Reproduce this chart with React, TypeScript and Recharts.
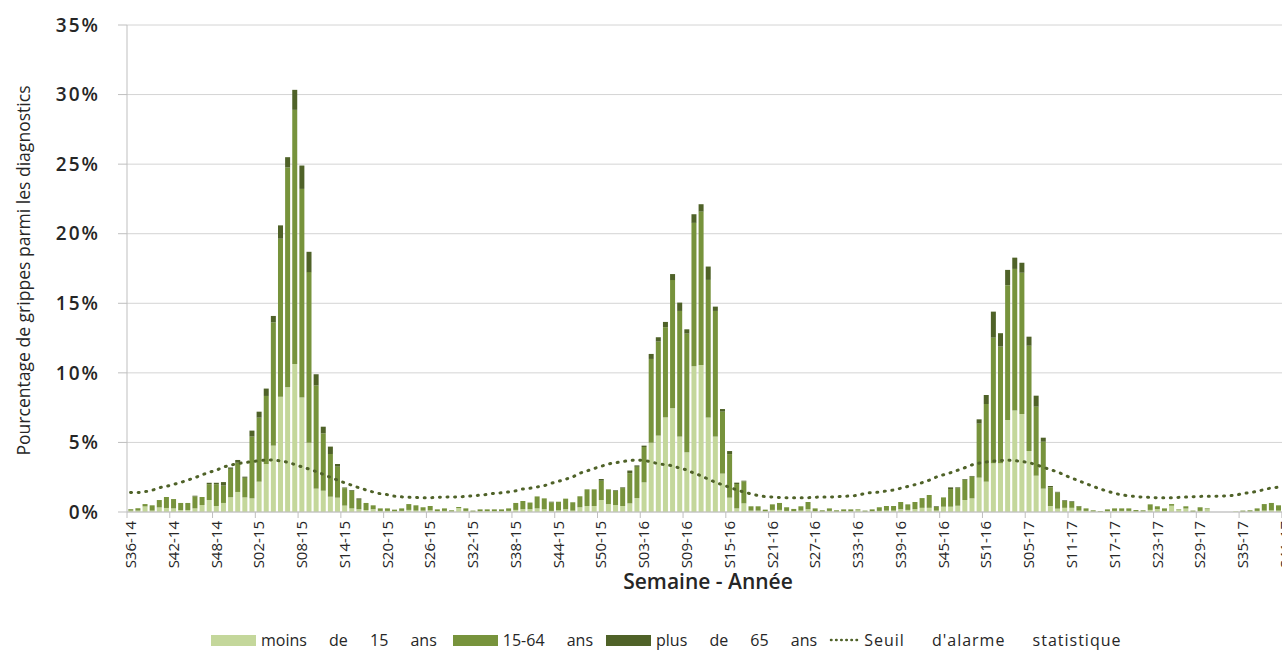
import { ComposedChart, Bar, Line, XAxis, YAxis, CartesianGrid, Legend, Label } from 'recharts';

// weekly flu share among diagnoses, season S36-14 .. S41-17
const SEASON_YEARS = [
  { year: '14', first: 36, last: 52 },
  { year: '15', first: 1, last: 53 },
  { year: '16', first: 1, last: 52 },
  { year: '17', first: 1, last: 41 },
];

const weeks: string[] = SEASON_YEARS.flatMap(({ year, first, last }) =>
  Array.from({ length: last - first + 1 }, (_, k) => `S${String(first + k).padStart(2, '0')}-${year}`),
);

const under15 = [
  0.1, 0.1, 0.4, 0.1, 0.33, 0.29, 0.26, 0.14, 0.14, 0.26,
  0.5, 0.86, 0.43, 0.65, 1.06, 1.44, 1.05, 0.98, 2.18, 3.45,
  4.77, 8.29, 8.96, 10.64, 8.22, 4.98, 1.68, 1.53, 1.1, 1.03,
  0.46, 0.26, 0.2, 0.14, 0.2, 0.08, 0.08, 0.05, 0.08, 0.15,
  0.1, 0.1, 0.12, 0.06, 0.08, 0.04, 0.28, 0.08, 0.03, 0.06,
  0.06, 0.06, 0.06, 0.08, 0.15, 0.2, 0.2, 0.26, 0.2, 0.08,
  0.12, 0.2, 0.1, 0.34, 0.43, 0.43, 0.86, 0.57, 0.5, 0.43,
  0.62, 1.0, 2.13, 4.98, 5.49, 6.8, 7.45, 5.42, 4.29, 10.47,
  10.57, 6.8, 5.42, 2.76, 1.03, 0.26, 0.62, 0.1, 0.1, 0.05,
  0.15, 0.15, 0.08, 0.06, 0.1, 0.2, 0.06, 0.03, 0.08, 0.03,
  0.05, 0.05, 0.12, 0.03, 0.05, 0.08, 0.1, 0.1, 0.2, 0.15,
  0.2, 0.3, 0.3, 0.1, 0.38, 0.38, 0.45, 0.86, 0.98, 2.47,
  2.18, 3.5, 3.5, 6.61, 7.29, 7.05, 4.38, 2.61, 1.68, 0.43,
  0.24, 0.3, 0.3, 0.1, 0.08, 0.04, 0.03, 0.05, 0.08, 0.08,
  0.08, 0.04, 0.04, 0.15, 0.2, 0.08, 0.45, 0.15, 0.25, 0.03,
  0.08, 0.2, 0, 0, 0, 0.05, 0.03, 0.04, 0.08, 0.1,
  0.12, 0.1, 0.12,
];

const age15to64 = [
  0.1, 0.17, 0.17, 0.38, 0.53, 0.79, 0.67, 0.51, 0.51, 0.86,
  0.58, 1.14, 1.57, 1.25, 2.04, 2.1, 1.41, 4.44, 4.6, 4.89,
  8.86, 11.35, 15.8, 18.26, 15.0, 12.26, 7.41, 4.12, 3.07, 2.23,
  1.25, 1.27, 0.68, 0.51, 0.28, 0.18, 0.18, 0.12, 0.18, 0.42,
  0.38, 0.24, 0.31, 0.13, 0.18, 0.08, 0.08, 0.18, 0.07, 0.13,
  0.13, 0.13, 0.13, 0.18, 0.5, 0.59, 0.48, 0.86, 0.78, 0.61,
  0.62, 0.76, 0.6, 0.79, 1.2, 1.2, 1.39, 1.06, 1.01, 1.29,
  2.17, 2.25, 2.54, 6.02, 6.76, 6.48, 9.22, 9.03, 8.53, 10.31,
  11.02, 9.88, 9.03, 4.45, 3.13, 1.75, 1.58, 0.31, 0.31, 0.12,
  0.4, 0.5, 0.26, 0.16, 0.31, 0.52, 0.2, 0.09, 0.18, 0.09,
  0.14, 0.14, 0.07, 0.07, 0.14, 0.26, 0.33, 0.33, 0.52, 0.4,
  0.52, 0.7, 0.92, 0.26, 0.67, 1.27, 1.27, 1.46, 1.56, 3.88,
  5.58, 9.03, 8.39, 9.69, 10.18, 10.15, 7.57, 4.96, 3.37, 1.34,
  1.16, 0.49, 0.42, 0.3, 0.18, 0.08, 0.04, 0.14, 0.18, 0.18,
  0.18, 0.1, 0.08, 0.4, 0.21, 0.18, 0.12, 0.04, 0.16, 0.07,
  0.26, 0.06, 0, 0, 0, 0, 0.07, 0.08, 0.18, 0.47,
  0.53, 0.38, 0.53,
];

const over65 = [
  0, 0, 0, 0, 0, 0, 0, 0, 0, 0.05,
  0, 0.1, 0.1, 0.25, 0.1, 0.2, 0.08, 0.43, 0.43, 0.53,
  0.46, 0.96, 0.74, 1.44, 1.68, 1.46, 0.81, 0.48, 0.53, 0.19,
  0.05, 0.05, 0.1, 0, 0, 0, 0, 0, 0, 0,
  0, 0, 0, 0, 0, 0, 0, 0, 0, 0,
  0, 0, 0, 0, 0, 0, 0, 0, 0, 0.05,
  0, 0, 0, 0, 0, 0, 0.12, 0, 0.05, 0.05,
  0.19, 0.1, 0.1, 0.36, 0.31, 0.38, 0.43, 0.6, 0.31, 0.62,
  0.53, 0.96, 0.31, 0.19, 0.22, 0.1, 0.05, 0, 0, 0,
  0, 0, 0, 0, 0, 0, 0, 0, 0, 0,
  0, 0, 0, 0, 0, 0, 0, 0, 0, 0,
  0, 0, 0, 0.05, 0, 0.12, 0.05, 0.05, 0.05, 0.31,
  0.65, 1.87, 0.96, 1.1, 0.81, 0.72, 0.65, 0.79, 0.29, 0.1,
  0.05, 0.05, 0.05, 0.03, 0, 0, 0, 0, 0, 0,
  0, 0, 0, 0, 0, 0, 0, 0, 0, 0,
  0, 0, 0, 0, 0, 0, 0, 0, 0, 0,
  0, 0, 0,
];

const alarmThreshold = [
  1.41, 1.4, 1.46, 1.56, 1.74, 1.84, 1.98, 2.12, 2.29, 2.46,
  2.66, 2.85, 3.0, 3.22, 3.36, 3.48, 3.55, 3.62, 3.68, 3.73,
  3.74, 3.67, 3.58, 3.42, 3.25, 3.09, 2.91, 2.71, 2.5, 2.3,
  2.1, 1.93, 1.75, 1.59, 1.44, 1.32, 1.25, 1.14, 1.09, 1.06,
  1.04, 1.03, 1.03, 1.05, 1.07, 1.08, 1.09, 1.12, 1.16, 1.21,
  1.26, 1.34, 1.38, 1.44, 1.52, 1.65, 1.71, 1.8, 1.89, 2.06,
  2.2, 2.35, 2.52, 2.78, 2.95, 3.12, 3.28, 3.44, 3.54, 3.62,
  3.7, 3.73, 3.7, 3.6, 3.47, 3.4, 3.32, 3.16, 3.02, 2.8,
  2.61, 2.37, 2.15, 1.96, 1.78, 1.6, 1.44, 1.31, 1.19, 1.11,
  1.08, 1.04, 1.03, 1.03, 1.03, 1.03, 1.06, 1.08, 1.08, 1.1,
  1.12, 1.16, 1.2, 1.33, 1.4, 1.42, 1.51, 1.58, 1.7, 1.83,
  1.96, 2.1, 2.28, 2.51, 2.67, 2.82, 3.0, 3.18, 3.38, 3.51,
  3.59, 3.66, 3.7, 3.72, 3.69, 3.63, 3.55, 3.4, 3.22, 3.05,
  2.88, 2.66, 2.44, 2.25, 2.04, 1.85, 1.66, 1.5, 1.35, 1.24,
  1.16, 1.11, 1.07, 1.05, 1.03, 1.03, 1.03, 1.05, 1.07, 1.1,
  1.12, 1.13, 1.13, 1.15, 1.17, 1.21, 1.32, 1.4, 1.48, 1.61,
  1.72, 1.78, 1.82,
];

const yTicks = [0, 5, 10, 15, 20, 25, 30, 35];

const data = weeks.map((week, i) => ({
  week,
  under15: under15[i],
  age15to64: age15to64[i],
  over65: over65[i],
  threshold: alarmThreshold[i],
}));

const LIGHT = '#c4d79b';
const MID = '#77933c';
const DARK = '#4f6228';
const AXIS = '#bfbfbf';
const TEXT = '#262626';
const FONT = '"Open Sans", sans-serif';

const CHART_W = 1295;
const CHART_H = 651;
const MARGIN = { top: 25, right: 6, left: 0, bottom: 0 };
const Y_AXIS_W = 127;
const BAND = (CHART_W - MARGIN.left - MARGIN.right - Y_AXIS_W) / weeks.length;

function WeekTick({ x, y, payload }: any) {
  const edge = x - BAND / 2;
  return (
    <g>
      <line x1={edge} x2={edge} y1={y} y2={y + 6} stroke={AXIS} />
      <text
        transform={`translate(${x},${y + 9}) rotate(-90)`}
        textAnchor="end"
        dy="0.36em"
        fontSize={15}
        fontFamily={FONT}
        fill={TEXT}
      >
        {payload.value}
      </text>
    </g>
  );
}

function YTitle({ viewBox }: any) {
  const cy = viewBox.y + viewBox.height / 2;
  return (
    <text
      transform={`translate(30,${cy + 2}) rotate(-90)`}
      textAnchor="middle"
      fontSize={19}
      fontFamily={FONT}
      fill={TEXT}
      textLength={370}
      lengthAdjust="spacingAndGlyphs"
    >
      Pourcentage de grippes parmi les diagnostics
    </text>
  );
}

function Swatch({ color }: { color: string }) {
  return <span style={{ display: 'inline-block', width: 45, height: 11, background: color, marginRight: 5 }} />;
}

function LegendRow() {
  const text = { fontSize: 16, wordSpacing: 18, color: TEXT, whiteSpace: 'pre' as const };
  return (
    <div style={{ display: 'flex', alignItems: 'center', paddingLeft: 211, fontFamily: FONT }}>
      <Swatch color={LIGHT} />
      <span style={text}>moins de 15 ans</span>
      <span style={{ width: 16 }} />
      <Swatch color={MID} />
      <span style={text}>15-64 ans</span>
      <span style={{ width: 13 }} />
      <Swatch color={DARK} />
      <span style={text}>plus de 65 ans</span>
      <span style={{ width: 12 }} />
      <svg width={30} height={12} style={{ marginRight: 5 }}>
        <line x1={2} x2={28} y1={6} y2={6} stroke={DARK} strokeWidth={2.5} strokeDasharray="0.5 4.6" strokeLinecap="round" />
      </svg>
      <span style={{ ...text, wordSpacing: 22, letterSpacing: 1 }}>Seuil d'alarme statistique</span>
    </div>
  );
}

export default function App() {
  return (
    <div style={{ position: 'absolute', left: 0, top: 0, width: 1282, height: 651, overflow: 'hidden', background: '#fff' }}>
      <ComposedChart width={CHART_W} height={CHART_H} data={data} margin={MARGIN} barCategoryGap="18%">
        <CartesianGrid horizontal vertical={false} stroke="#d4d4d4" />
        <XAxis
          dataKey="week"
          interval={5}
          height={CHART_H - 512 - MARGIN.bottom}
          tickSize={0}
          tickMargin={0}
          tickLine={false}
          axisLine={{ stroke: AXIS }}
          tick={<WeekTick />}
          label={{
            value: 'Semaine - Année',
            position: 'insideTop',
            offset: 62,
            style: { fontSize: 21, fontWeight: 600, fontFamily: FONT, fill: TEXT },
          }}
        />
        <YAxis
          width={Y_AXIS_W}
          domain={[0, 35]}
          ticks={yTicks}
          tickFormatter={(v: number) => `${v}%`}
          tickSize={9}
          tickMargin={18}
          axisLine={{ stroke: AXIS }}
          tickLine={{ stroke: AXIS }}
          tick={{ fontSize: 19, fontWeight: 600, fontFamily: FONT, fill: TEXT, letterSpacing: 2 }}
        >
          <Label content={<YTitle />} />
        </YAxis>
        <Legend
          layout="horizontal"
          verticalAlign="middle"
          align="center"
          wrapperStyle={{ top: 629, left: 0, width: 1282 }}
          content={() => <LegendRow />}
        />
        <Bar dataKey="under15" stackId="age" fill={LIGHT} isAnimationActive={false} />
        <Bar dataKey="age15to64" stackId="age" fill={MID} isAnimationActive={false} />
        <Bar dataKey="over65" stackId="age" fill={DARK} isAnimationActive={false} />
        <Line
          type="monotone"
          dataKey="threshold"
          stroke={DARK}
          strokeWidth={3}
          strokeDasharray="1 6.6"
          strokeLinecap="round"
          dot={false}
          activeDot={false}
          isAnimationActive={false}
        />
      </ComposedChart>
    </div>
  );
}
